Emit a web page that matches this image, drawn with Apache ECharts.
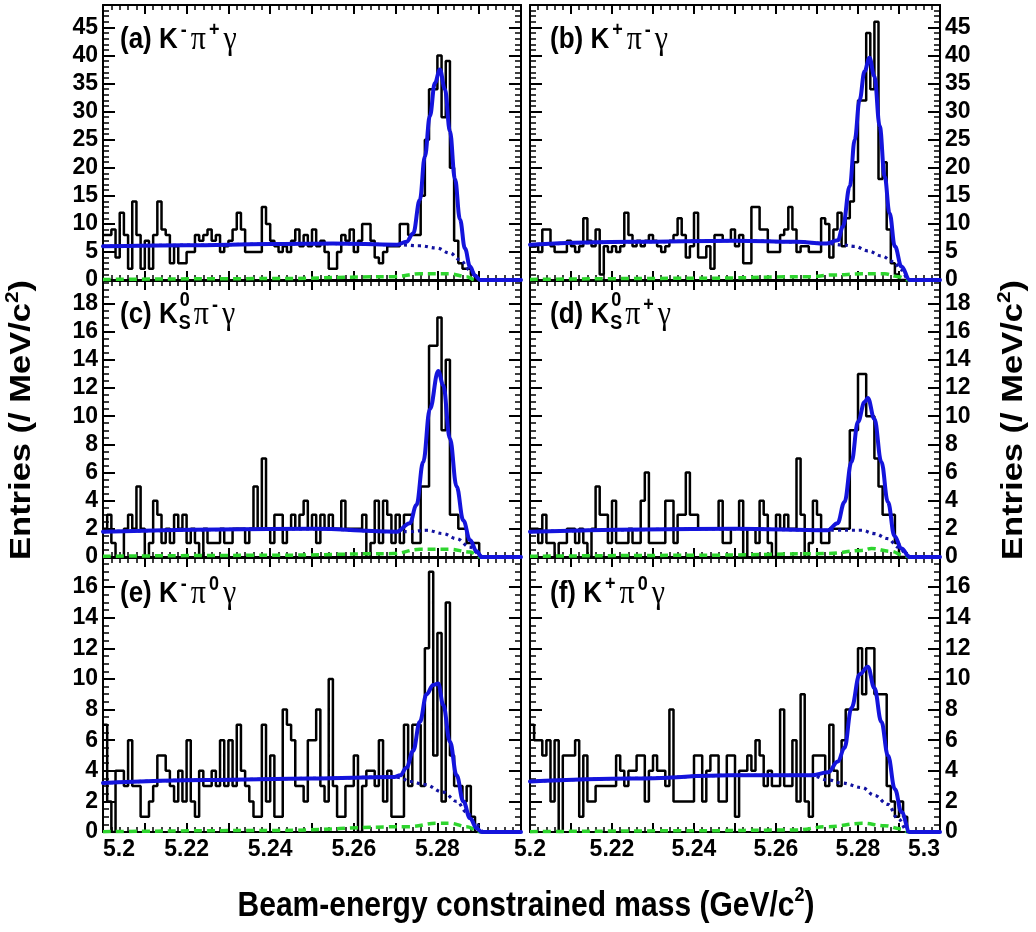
<!DOCTYPE html>
<html>
<head>
<meta charset="UTF-8">
<title>Mbc</title>
<script src="https://cdn.jsdelivr.net/npm/echarts@6/dist/echarts.min.js"></script>
<style>
  html, body { margin: 0; background: #fff; }
  #chart { width: 1036px; height: 932px; }
</style>
</head>
<body>
<div id="chart"></div>
<script>
// 1 MeV bins starting at 5.200 GeV/c^2 (entries per bin)
var xMin = 5.2, xMax = 5.3, binW = 0.001;

var countsA = [8,8,9,4,12,8,2,14,8,2, 7,2,8,14,9,8,3,6,3,3, 5,5,8,7,8,9,7,8,5,6,
  7,9,12,9,5,5,5,5,13,10, 7,6,5,6,5,7,9,6,8,6, 9,6,7,5,2,2,5,8,7,9,
  5,7,10,10,7,4,3,5,6,6, 6,10,10,8,8,8,15,25,34,34, 40,29,39,20,7,3,2,2,1,0];
var countsB = [6,6,5,9,9,6,5,5,5,7, 6,5,6,11,7,6,9,1,6,5, 6,5,6,12,8,6,7,6,7,8,
  7,6,5,6,7,8,11,8,4,6, 12,4,4,6,2,8,8,7,7,9, 6,8,3,3,13,13,9,9,5,5,
  5,8,9,13,9,5,6,6,5,5, 5,11,10,4,9,12,6,11,14,21, 32,32,44,34,46,18,21,9,3,1, 0];
var countsC = [2,3,1,0,0,2,3,2,5,2, 0,1,4,3,1,2,1,3,2,3, 1,2,1,0,2,1,1,1,2,1,
  1,2,2,2,1,2,5,2,7,2, 1,3,3,1,2,3,2,3,4,2, 3,1,3,2,3,2,2,4,2,2,
  2,2,3,0,1,4,1,4,3,1, 3,1,3,3,1,1,5,5,15,15, 17,9,14,3,3,2,2,1,1,1];
var countsD = [2,2,1,3,1,1,0,1,1,2, 2,1,2,1,0,2,5,3,3,1, 4,1,1,1,2,1,1,4,6,1,
  1,1,1,4,4,1,3,3,6,3, 3,2,2,2,2,2,4,1,1,2, 2,4,0,2,2,1,4,3,1,0,
  3,2,3,2,2,7,3,0,1,4, 3,1,1,2,2,2,2,2,9,9, 13,13,10,10,7,5,3,3,3,1, 0];
var countsE = [7,2,0,4,4,3,6,3,3,1, 1,2,3,5,5,4,3,2,4,2, 6,2,1,4,3,3,4,3,6,3,
  6,3,7,4,3,2,1,1,7,2, 5,1,1,8,7,6,3,3,2,6, 6,8,3,2,10,3,1,1,3,3,
  5,0,3,4,4,3,6,2,4,1, 1,1,7,3,7,7,3,12,17,5, 13,2,15,5,3,3,2,3,1,0];
var countsF = [7,6,6,5,6,2,6,0,5,5, 5,6,1,5,2,2,3,3,3,3, 3,5,4,3,4,4,5,5,2,4,
  5,4,4,3,8,2,2,2,2,2, 5,5,2,4,5,5,2,2,5,5, 1,4,4,5,4,6,5,3,4,3,
  3,8,3,3,6,2,9,2,1,5, 5,5,3,7,4,3,6,8,8,8, 12,9,12,12,9,9,9,3,2,1, 2,1];

// fit curves: [mass, entries]
var fitA = [[5.2,6.0],[5.22,6.2],[5.24,6.4],[5.255,6.5],[5.2703,6.3],[5.2726,6.8],[5.2742,8.3],[5.2758,14.3],
  [5.277,22.0],[5.2782,29.2],[5.2794,35.1],[5.2806,37.5],[5.2818,34.0],[5.283,26.5],[5.2842,18.0],
  [5.2854,10.8],[5.2866,5.6],[5.2878,2.4],[5.289,0.8],[5.2902,0],[5.3,0]];
var bkgA = [[5.2,6.0],[5.22,6.2],[5.24,6.4],[5.255,6.5],[5.2703,6.3],[5.2758,6.1],[5.2798,5.7],[5.283,4.8],
  [5.2854,3.6],[5.2878,1.8],[5.2898,0.3],[5.2902,0],[5.3,0]];
var peakA = [[5.2,0.1],[5.24,0.25],[5.2695,0.6],[5.2758,1.1],[5.283,1.1],[5.287,0.6],[5.289,0],[5.3,0]];

var fitB = [[5.2,6.3],[5.225,6.8],[5.25,7.0],[5.265,6.8],[5.2724,6.5],[5.2751,7.1],[5.2763,9.5],[5.278,16.7],
  [5.2792,25.0],[5.2804,32.1],[5.2816,37.2],[5.2828,39.6],[5.284,36.3],[5.2853,27.4],[5.2865,18.5],
  [5.2877,11.9],[5.289,6.0],[5.2906,2.4],[5.2926,0],[5.3,0]];
var bkgB = [[5.2,6.3],[5.225,6.8],[5.25,7.0],[5.265,6.8],[5.2724,6.5],[5.2763,6.25],[5.2792,6.0],[5.2824,5.2],
  [5.2857,4.3],[5.2886,3.3],[5.2906,1.8],[5.2922,0.1],[5.2926,0],[5.3,0]];
var peakB = [[5.2,0.1],[5.24,0.3],[5.2686,0.6],[5.2739,0.9],[5.281,1.1],[5.2865,1.1],[5.2898,0.6],[5.2922,0],[5.3,0]];

var fitC = [[5.2,1.8],[5.25,2.0],[5.2703,1.8],[5.2734,2.4],[5.275,3.7],[5.2766,6.75],[5.2782,10.5],[5.2802,13.2],
  [5.2814,12.2],[5.283,8.4],[5.2846,5.0],[5.2862,2.6],[5.2878,1.2],[5.2894,0.4],[5.2906,0],[5.3,0]];
var bkgC = [[5.2,1.8],[5.25,2.0],[5.2703,1.8],[5.2734,1.8],[5.2774,1.9],[5.2814,1.66],[5.2846,1.3],
  [5.2878,0.7],[5.2902,0.17],[5.2906,0],[5.3,0]];
var peakC = [[5.2,0.05],[5.24,0.12],[5.2695,0.24],[5.2758,0.55],[5.283,0.55],[5.2878,0.36],[5.2902,0],[5.3,0]];

var fitD = [[5.2,1.8],[5.25,2.0],[5.2726,1.9],[5.275,2.4],[5.2767,3.9],[5.2784,6.75],[5.28,9.6],[5.2816,11.0],
  [5.2824,11.3],[5.284,9.8],[5.2857,6.75],[5.2873,3.9],[5.2889,1.5],[5.2906,0.6],[5.2926,0],[5.3,0]];
var bkgD = [[5.2,1.8],[5.25,2.0],[5.2726,1.9],[5.275,1.9],[5.2809,1.9],[5.284,1.66],[5.2873,1.3],
  [5.2898,0.7],[5.2922,0.1],[5.2926,0],[5.3,0]];
var peakD = [[5.2,0.05],[5.24,0.12],[5.2726,0.24],[5.2809,0.47],[5.2833,0.6],[5.2881,0.4],[5.2912,0.1],[5.2926,0],[5.3,0]];

var fitE = [[5.2,3.2],[5.225,3.4],[5.25,3.5],[5.2697,3.6],[5.2711,3.7],[5.2726,4.2],[5.2742,5.3],[5.2758,7.2],
  [5.2774,9.0],[5.279,9.6],[5.2802,9.7],[5.2814,8.3],[5.283,5.9],[5.2846,3.7],[5.2862,2.0],[5.2878,0.9],
  [5.2894,0.24],[5.2906,0],[5.3,0]];
var bkgE = [[5.2,3.2],[5.225,3.4],[5.25,3.5],[5.2697,3.6],[5.2711,3.55],[5.2734,3.3],[5.277,3.1],[5.2814,2.6],
  [5.2846,2.0],[5.287,1.3],[5.2894,0.46],[5.291,0],[5.3,0]];
var peakE = [[5.2,0.02],[5.24,0.1],[5.2734,0.35],[5.2798,0.57],[5.283,0.57],[5.287,0.35],[5.2894,0.13],[5.2902,0],[5.3,0]];

var fitF = [[5.2,3.3],[5.225,3.5],[5.249,3.7],[5.2686,3.7],[5.2727,3.9],[5.2751,4.6],[5.2767,5.5],[5.2784,8.1],
  [5.2804,10.3],[5.2824,10.8],[5.284,9.4],[5.2857,7.2],[5.2873,5.0],[5.289,2.8],[5.2906,1.3],[5.2926,0],[5.3,0]];
var bkgF = [[5.2,3.3],[5.225,3.5],[5.249,3.7],[5.2686,3.7],[5.2727,3.4],[5.276,3.2],[5.281,2.9],[5.284,2.4],
  [5.2873,1.8],[5.2897,0.9],[5.2922,0],[5.3,0]];
var peakF = [[5.2,0.02],[5.24,0.08],[5.2646,0.13],[5.2727,0.35],[5.281,0.57],[5.2865,0.41],[5.2906,0.2],[5.2922,0],[5.3,0]];

var yTicksTop = [0, 45, 5];     // min label, max label, step
var yTicksMid = [0, 18, 2];
var yTicksBot = [0, 16, 2];

var counts = [countsA, countsB, countsC, countsD, countsE, countsF];
var fits = [fitA, fitB, fitC, fitD, fitE, fitF];
var bkgs = [bkgA, bkgB, bkgC, bkgD, bkgE, bkgF];
var peaks = [peakA, peakB, peakC, peakD, peakE, peakF];

// layout
var colLeft = [103, 530], colWidth = [418, 410];
var rowTop = [5, 281, 558], rowHeight = [275, 276, 274];
var rowMax = [49, 19.6, 17.9];
var rowTicks = [yTicksTop, yTicksMid, yTicksBot];
var rowMinor = [5, 4, 4];

var sans = '"Liberation Sans", Arial, Helvetica, sans-serif';
var serif = '"Liberation Serif", "DejaVu Serif", serif';
var black = '#000';

function histData(c) {
  var d = [];
  for (var i = 0; i < c.length; i++) d.push([xMin + i * binW, c[i]]);
  d.push([xMin + c.length * binW, 0]);
  d.push([xMax, 0]);
  return d;
}

var grids = [], xAxes = [], yAxes = [], series = [];
for (var p = 0; p < 6; p++) {
  var row = Math.floor(p / 2), col = p % 2;
  grids.push({left: colLeft[col], top: rowTop[row], width: colWidth[col], height: rowHeight[row],
    outerBoundsMode: 'none', containLabel: false});

  var lastRow = row === 2;
  var leftCol = col === 0;
  ['bottom', 'top'].forEach(function (pos) {
    xAxes.push({
      type: 'value', gridIndex: p, position: pos, min: xMin, max: xMax, interval: 0.01,
      axisLine: {show: true, onZero: false, lineStyle: {color: black, width: 2}},
      axisTick: {show: true, inside: true, length: 9, lineStyle: {color: black, width: 2}},
      minorTick: {show: true, splitNumber: 5, length: 5, lineStyle: {color: black, width: 1.5}},
      splitLine: {show: false},
      axisLabel: {
        show: pos === 'bottom' && lastRow, margin: 6, hideOverlap: false,
        alignMinLabel: leftCol ? 'left' : 'center',
        alignMaxLabel: leftCol ? 'center' : 'right',
        color: black, fontFamily: sans, fontWeight: 'bold', fontSize: 23,
        formatter: (function (isLeft) {
          return function (v) {
            var k = Math.round(v * 100);
            if (k % 2 !== 0) return '';
            if (isLeft && k >= 530) return '';
            return String(k / 100);
          };
        })(leftCol)
      }
    });
  });
  var t = rowTicks[row];
  ['left', 'right'].forEach(function (pos) {
    yAxes.push({
      type: 'value', gridIndex: p, position: pos, min: 0, max: rowMax[row], interval: t[2],
      axisLine: {show: true, onZero: false, lineStyle: {color: black, width: 2}},
      axisTick: {show: true, inside: true, length: 12, lineStyle: {color: black, width: 2}},
      minorTick: {show: true, splitNumber: rowMinor[row], length: 6, lineStyle: {color: black, width: 1.5}},
      splitLine: {show: false},
      axisLabel: {
        show: (pos === 'left') === leftCol, margin: 5, hideOverlap: false,
        showMaxLabel: true, showMinLabel: true,
        color: black, fontFamily: sans, fontWeight: 'bold', fontSize: 23,
        formatter: (function (tt) {
          return function (v) { return v > tt[1] + 0.01 ? '' : String(Math.round(v)); };
        })(t)
      }
    });
  });

  series.push({
    type: 'line', xAxisIndex: 2 * p, yAxisIndex: 2 * p, data: histData(counts[p]),
    step: 'end', symbol: 'none', silent: true, z: 2,
    lineStyle: {color: black, width: 2.5}
  });
  series.push({
    type: 'line', xAxisIndex: 2 * p, yAxisIndex: 2 * p, data: peaks[p],
    smooth: 0.4, smoothMonotone: 'x', symbol: 'none', silent: true, z: 3,
    lineStyle: {color: '#2ed52e', width: 3.5, type: [8, 5]}
  });
  series.push({
    type: 'line', xAxisIndex: 2 * p, yAxisIndex: 2 * p, data: bkgs[p],
    smooth: 0.4, smoothMonotone: 'x', symbol: 'none', silent: true, z: 4,
    lineStyle: {color: '#1212a0', width: 3.2, type: [3, 4]}
  });
  series.push({
    type: 'line', xAxisIndex: 2 * p, yAxisIndex: 2 * p, data: fits[p],
    smooth: 0.4, smoothMonotone: 'x', symbol: 'none', silent: true, z: 5,
    lineStyle: {color: '#1414dc', width: 4, cap: 'round', join: 'round'}
  });
}

// panel labels
var labelRich = {
  b: {fontFamily: sans, fontWeight: 'bold', fontSize: 26, lineHeight: 34, color: black},
  g: {fontFamily: serif, fontSize: 30, lineHeight: 34, color: black},
  sup: {fontFamily: sans, fontWeight: 'bold', fontSize: 18, lineHeight: 17, verticalAlign: 'top',
    padding: [0, 4, 0, 3], color: black},
  sub: {fontFamily: sans, fontWeight: 'bold', fontSize: 18, lineHeight: 17, verticalAlign: 'bottom',
    padding: [0, 3, 0, 1], color: black}
};
var panelPrefix = ['(a) K', '(b) K', '(c) K', '(d) K', '(e) K', '(f) K'];
var panelRest = [
  '{sup|-}{g|π}{sup|+}{g|γ}',
  '{sup|+}{g|π}{sup|-}{g|γ}',
  '{sub|S}{g|π}{sup|-}{g|γ}',
  '{sub|S}{g|π}{sup|+}{g|γ}',
  '{sup|-}{g|π}{sup|0}{g|γ}',
  '{sup|+}{g|π}{sup|0}{g|γ}'
];
var labelX = [120, 550], labelY = [20, 295, 574];
var stretch = 1.15;

var measure = document.createElement('canvas').getContext('2d');
measure.font = 'bold 26px "Liberation Sans"';

var graphics = [];
for (var q = 0; q < 6; q++) {
  var r = Math.floor(q / 2), c = q % 2;
  graphics.push({
    type: 'text', x: labelX[c], y: labelY[r], scaleY: stretch, silent: true,
    style: {text: '{b|' + panelPrefix[q] + '}' + panelRest[q], rich: labelRich,
      align: 'left', verticalAlign: 'top'}
  });
  if (r === 1) {
    var w = measure.measureText(panelPrefix[q]).width;
    graphics.push({
      type: 'text', x: labelX[c] + w + 2, y: labelY[r] + 5 * stretch, scaleY: stretch, silent: true,
      style: {text: '0', fontFamily: sans, fontWeight: 'bold', fontSize: 18, fill: black,
        align: 'left', verticalAlign: 'middle'}
    });
  }
}

var titleRich = {
  t: {fontFamily: sans, fontWeight: 'bold', fontSize: 30, lineHeight: 36, color: black},
  s: {fontFamily: sans, fontWeight: 'bold', fontSize: 18, lineHeight: 18, verticalAlign: 'top', color: black}
};
graphics.push({
  type: 'text', x: 526, y: 906, scaleY: stretch, silent: true,
  style: {text: '{t|Beam-energy constrained mass (GeV/c}{s|2}{t|)}', rich: titleRich,
    align: 'center', verticalAlign: 'middle'}
});
[22, 1014].forEach(function (xx) {
  graphics.push({
    type: 'text', x: xx, y: 420, rotation: Math.PI / 2, scaleX: stretch, silent: true,
    style: {text: '{t|Entries (/ MeV/c}{s|2}{t|)}', rich: titleRich,
      align: 'center', verticalAlign: 'middle'}
  });
});

var chart = echarts.init(document.getElementById('chart'), null, {renderer: 'canvas'});
chart.setOption({
  animation: false,
  backgroundColor: '#fff',
  grid: grids,
  xAxis: xAxes,
  yAxis: yAxes,
  series: series,
  graphic: graphics
});
</script>
</body>
</html>
